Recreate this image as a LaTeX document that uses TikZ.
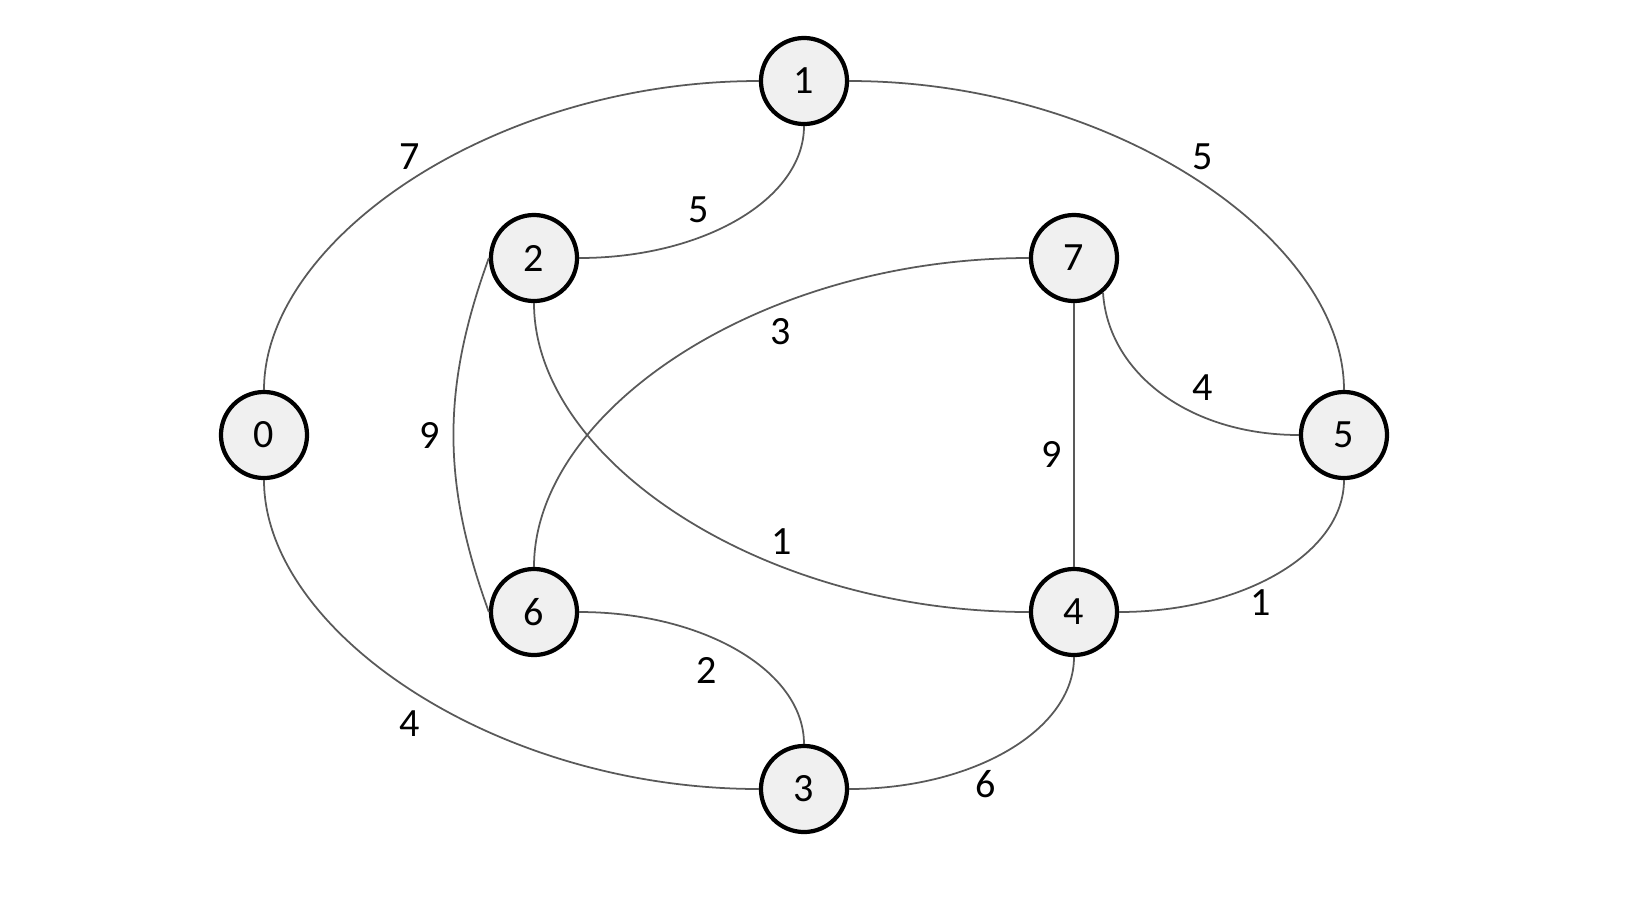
\documentclass[tikz,border=0pt]{standalone}
\usepackage{fontspec}
\setmainfont{Carlito}
\begin{document}
\begin{tikzpicture}[x=0.01cm,y=-0.01cm,
  vert/.style={draw, circle, line width=1.2pt, fill=black!6, minimum size=0.86cm, inner sep=0pt, font=\fontsize{11.4}{13}\selectfont},
  wgt/.style={font=\fontsize{11.4}{13}\selectfont, inner sep=1pt},
  edge/.style={draw=black!65, line width=0.5pt}]
\useasboundingbox (0,0) rectangle (1632,914);

% vertices
\node[vert] (n1) at (804,81) {1};
\node[vert] (n2) at (534,258) {2};
\node[vert] (n7) at (1074,258) {7};
\node[vert] (n0) at (264,435) {0};
\node[vert] (n5) at (1344,435) {5};
\node[vert] (n6) at (534,612) {6};
\node[vert] (n4) at (1074,612) {4};
\node[vert] (n3) at (804,789) {3};

% weights
\node[wgt] (w01) at (410,157) {7};
\node[wgt] (w15) at (1203,157) {5};
\node[wgt] (w12) at (699,210) {5};
\node[wgt] (w76) at (781,332) {3};
\node[wgt] (w75) at (1203,388) {4};
\node[wgt] (w26) at (430,435) {9};
\node[wgt] (w74) at (1052,454) {9};
\node[wgt] (w24) at (782,542) {1};
\node[wgt] (w54) at (1261,603) {1};
\node[wgt] (w63) at (707,670) {2};
\node[wgt] (w03) at (410,724) {4};
\node[wgt] (w34) at (986,784) {6};

% edges
\draw[edge] (n0.north) .. controls +(0,-150) and +(-265,0) .. (n1.west);
\draw[edge] (n1.east) .. controls +(265,0) and +(0,-150) .. (n5.north);
\draw[edge] (n0.south) .. controls +(0,150) and +(-265,0) .. (n3.west);
\draw[edge] (n3.east) .. controls +(124,0) and +(0,73) .. (n4.south);
\draw[edge] (n1.south) .. controls +(0,73) and +(124,0) .. (n2.east);
\draw[edge] (n2.west) to[out=250,in=110] (n6.west);
\draw[edge] (n2.south) .. controls +(0,155) and +(-270,0) .. (n4.west);
\draw[edge] (n7.west) .. controls +(-270,0) and +(0,-155) .. (n6.north);
\draw[edge] (n7) -- (n4);
\draw[edge] (n7.-50) .. controls +(5,80) and +(-110,0) .. (n5.west);
\draw[edge] (n5.south) .. controls +(0,73) and +(124,0) .. (n4.east);
\draw[edge] (n6.east) .. controls +(124,0) and +(0,-73) .. (n3.north);
\end{tikzpicture}
\end{document}
